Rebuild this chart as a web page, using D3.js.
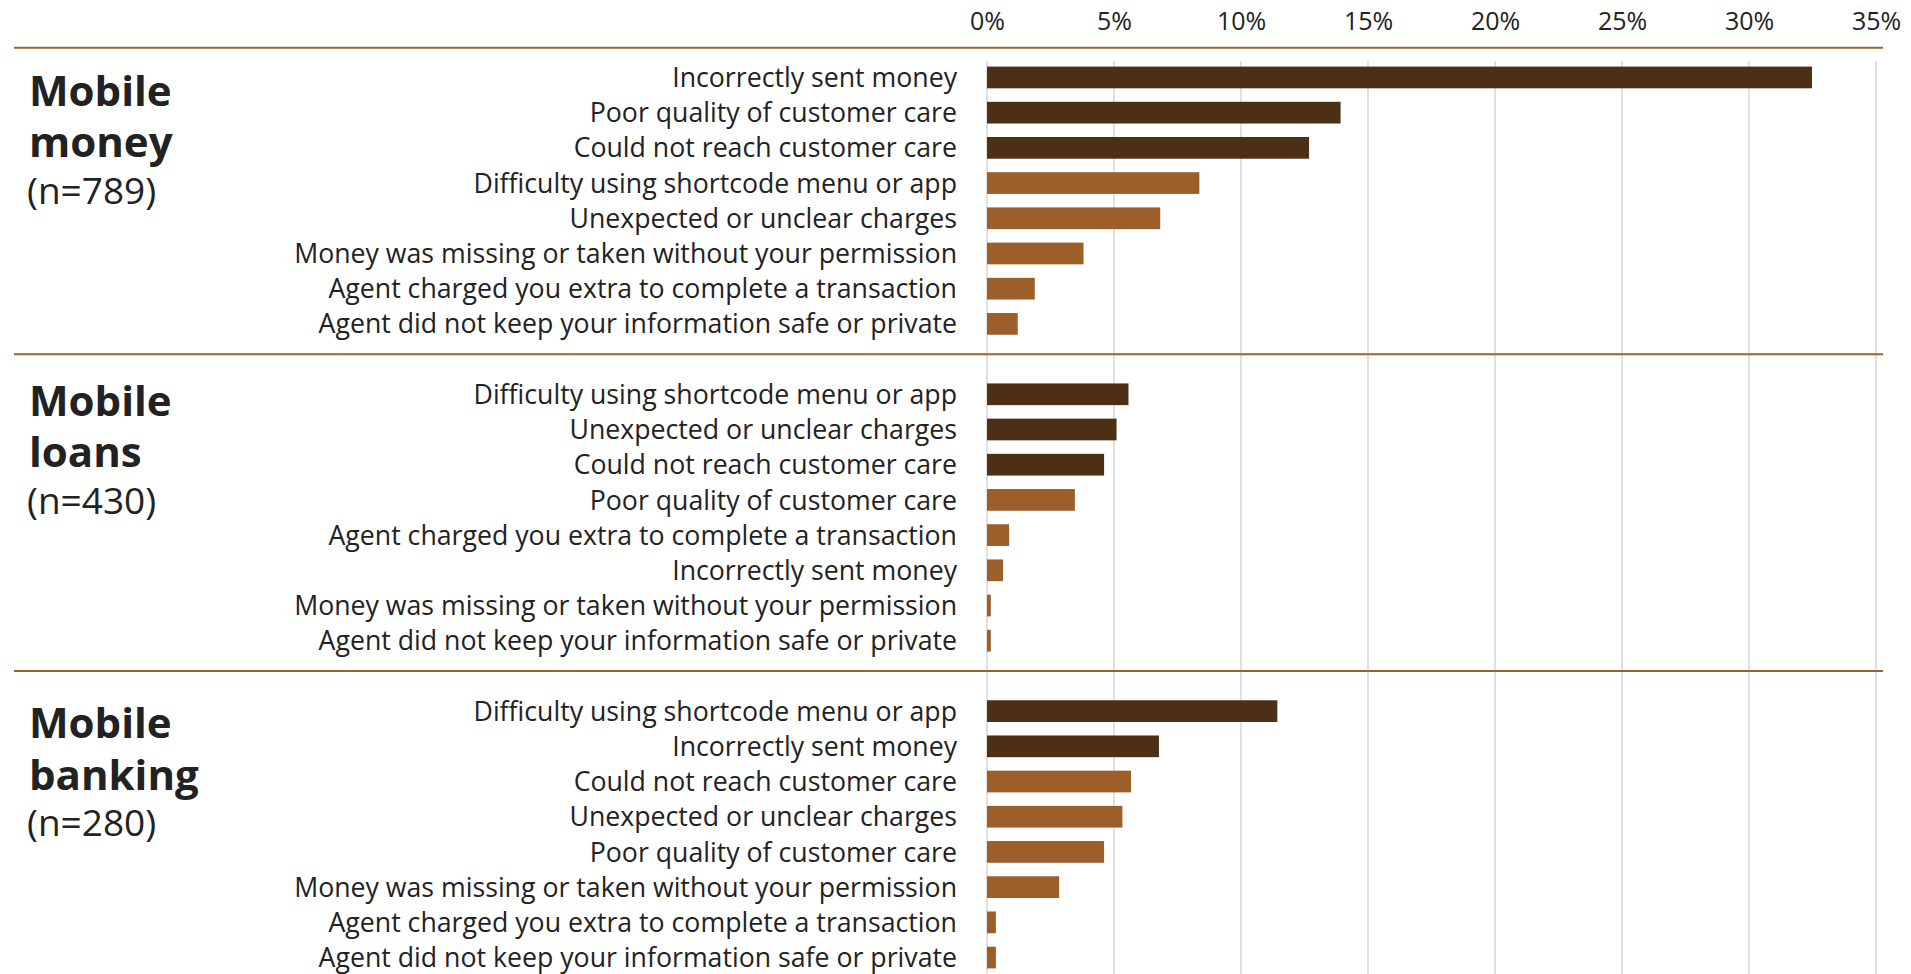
<!DOCTYPE html>
<html>
<head>
<script src="https://d3js.org/d3.v7.min.js"></script>
<style>
  body { margin: 0; background: #fff; }
  text { font-family: "Open Sans", sans-serif; fill: #222; }
</style>
</head>
<body>
<div id="chart"></div>
<script>
// data
const ticks = [0, 5, 10, 15, 20, 25, 30, 35];
const titles = [["Mobile", "money"], ["Mobile", "loans"], ["Mobile", "banking"]];
const sampleSizes = [789, 430, 280];
const darkCount = [3, 3, 2]; // top bars drawn dark in each block

const moneyLabels = ["Incorrectly sent money", "Poor quality of customer care", "Could not reach customer care",
  "Difficulty using shortcode menu or app", "Unexpected or unclear charges",
  "Money was missing or taken without your permission", "Agent charged you extra to complete a transaction",
  "Agent did not keep your information safe or private"];
const moneyValues = [32.48, 13.92, 12.68, 8.36, 6.82, 3.8, 1.88, 1.21];

const loansLabels = ["Difficulty using shortcode menu or app", "Unexpected or unclear charges",
  "Could not reach customer care", "Poor quality of customer care",
  "Agent charged you extra to complete a transaction", "Incorrectly sent money",
  "Money was missing or taken without your permission", "Agent did not keep your information safe or private"];
const loansValues = [5.57, 5.1, 4.61, 3.46, 0.87, 0.63, 0.15, 0.15];

const bankingLabels = ["Difficulty using shortcode menu or app", "Incorrectly sent money",
  "Could not reach customer care", "Unexpected or unclear charges", "Poor quality of customer care",
  "Money was missing or taken without your permission", "Agent charged you extra to complete a transaction",
  "Agent did not keep your information safe or private"];
const bankingValues = [11.43, 6.77, 5.67, 5.33, 4.61, 2.84, 0.35, 0.35];

const labels = [moneyLabels, loansLabels, bankingLabels];
const values = [moneyValues, loansValues, bankingValues];

// layout
const width = 1911, height = 974;
const dark = "#4d2f16", light = "#9c5f2a", rule = "#9f622a";
const titleOffset = [58, 61.5, 67];

const svg = d3.select("#chart").append("svg")
  .attr("width", width).attr("height", height);

const x = d3.scaleLinear().domain([0, 35]).range([987, 1876]);

// every block has 8 rows plus one empty slot between blocks
const slots = d3.range(26);
const y = d3.scaleBand().domain(slots).range([59.9, 59.9 + 26 * 35.2]).paddingInner(0.383).paddingOuter(0.19);

// gridlines
svg.append("g").selectAll("line")
  .data(ticks).enter().append("line")
  .attr("x1", d => x(d)).attr("x2", d => x(d))
  .attr("y1", 61).attr("y2", height)
  .attr("stroke", "#e0e0e0").attr("stroke-width", 2);

// top axis
const axis = svg.append("g")
  .attr("transform", "translate(0,30)")
  .call(d3.axisTop(x).tickValues(ticks).tickFormat(d => d + "%").tickSize(0).tickPadding(0));
axis.select(".domain").remove();
axis.selectAll("text")
  .style("font-family", "Open Sans, sans-serif")
  .style("font-size", "25px").attr("fill", "#222").attr("dy", 0);

// separators
const sepY = [47.7].concat([1, 2].map(s => y(s * 9) + y.bandwidth() / 2 - 40));
svg.append("g").selectAll("line")
  .data(sepY).enter().append("line")
  .attr("x1", 14).attr("x2", 1883)
  .attr("y1", d => d).attr("y2", d => d)
  .attr("stroke", rule).attr("stroke-width", 2);

labels.forEach((labs, s) => {
  const rows = labs.map((l, i) => ({label: l, value: values[s][i], slot: s * 9 + i, dark: i < darkCount[s]}));
  const g = svg.append("g");

  g.selectAll("rect").data(rows).enter().append("rect")
    .attr("x", x(0))
    .attr("y", d => y(d.slot))
    .attr("width", d => x(d.value) - x(0))
    .attr("height", y.bandwidth())
    .attr("fill", d => d.dark ? dark : light);

  g.selectAll("text.lab").data(rows).enter().append("text")
    .attr("class", "lab")
    .attr("x", 957)
    .attr("y", d => y(d.slot) + y.bandwidth() / 2)
    .attr("dy", "0.36em")
    .attr("text-anchor", "end")
    .style("font-size", "26.7px")
    .text(d => d.label);

  // block title, one text per line
  const top = sepY[s] + titleOffset[s];
  titles[s].forEach((line, k) => {
    svg.append("text").attr("x", 29).attr("y", top + k * 51.5)
      .style("font-size", "42px").style("font-weight", "bold").text(line);
  });
  svg.append("text").attr("x", 27).attr("y", top + 51.5 + 46.5)
    .style("font-size", "37px").text("(n=" + sampleSizes[s] + ")");
});
</script>
</body>
</html>
